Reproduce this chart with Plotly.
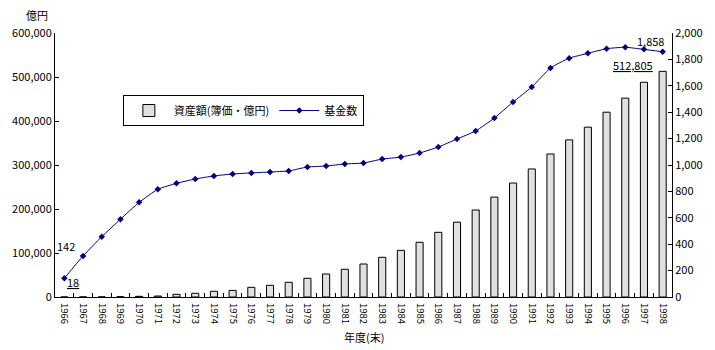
import plotly.graph_objects as go

# 年度(末)ごとの資産額(簿価・億円)と基金数
years = [str(y) for y in range(1966, 1999)]
assets = [18, 150, 300, 700, 1500, 2200, 6100, 8400, 13000, 15000,
          22000, 26600, 33400, 42500, 52300, 63000, 75000, 90200, 106000, 124300,
          147000, 170000, 197700, 227000, 259000, 291000, 325000, 357000, 386000, 420000,
          452000, 488000, 512805]
funds = [142, 311, 457, 589, 717, 816, 861, 894, 917, 932,
         940, 947, 955, 985, 992, 1008, 1015, 1045, 1060, 1091,
         1136, 1197, 1258, 1356, 1477, 1591, 1735, 1809, 1846, 1881,
         1892, 1876, 1858]

left_ticks = [0, 100000, 200000, 300000, 400000, 500000, 600000]
right_ticks = [0, 200, 400, 600, 800, 1000, 1200, 1400, 1600, 1800, 2000]

FONT = "Noto Sans CJK JP"
NAVY = "#000080"

fig = go.Figure()
fig.add_trace(go.Bar(
    x=years, y=assets, name="資産額(簿価・億円)",
    width=0.38,
    marker=dict(color="#E0E0E0", line=dict(color="black", width=1)),
    yaxis="y",
))
fig.add_trace(go.Scatter(
    x=years, y=funds, name="基金数", mode="lines+markers",
    line=dict(color=NAVY, width=1, shape="spline", smoothing=0.5),
    marker=dict(symbol="diamond", size=5, color=NAVY),
    yaxis="y2",
))

fig.update_layout(
    width=715, height=350,
    margin=dict(l=51, r=38, t=33, b=53),
    paper_bgcolor="white", plot_bgcolor="white",
    font=dict(family=FONT, size=11, color="black"),
    showlegend=True,
    legend=dict(
        orientation="h", x=0.11, y=0.765, xanchor="left", yanchor="top",
        bordercolor="black", borderwidth=1, bgcolor="white",
        font=dict(size=11), itemwidth=40,
    ),
    xaxis=dict(
        type="category", range=[-0.5, len(years) - 0.5],
        showline=True, linecolor="black", linewidth=1,
        ticks="inside", ticklen=4, tickson="boundaries", tickcolor="black",
        tickangle=90, tickfont=dict(size=9.5), ticklabelstandoff=3,
        showgrid=False,
    ),
    yaxis=dict(
        range=[0, 600000], tickvals=left_ticks, tickformat=",",
        showline=True, linecolor="black", linewidth=1,
        ticks="inside", ticklen=4, tickcolor="black", showgrid=False,
        zeroline=False,
    ),
    yaxis2=dict(
        range=[0, 2000], tickvals=right_ticks, tickformat=",",
        overlaying="y", side="right",
        showline=True, linecolor="black", linewidth=1,
        ticks="inside", ticklen=4, tickcolor="black", showgrid=False,
        zeroline=False,
    ),
)

first, last = 0, len(years) - 1
annotations = [
    dict(x=first, y=funds[0], xref="x", yref="y2", text=f"{funds[0]:,}",
         showarrow=False, xshift=2, yshift=32),
    dict(x=first, y=0, xref="x", yref="y", text=f"<u>{assets[0]:,}</u>",
         showarrow=False, xshift=9, yshift=15),
    dict(x=last, y=funds[-1], xref="x", yref="y2", text=f"{funds[-1]:,}",
         showarrow=False, xshift=-12, yshift=11),
    dict(x=last, y=assets[-1], xref="x", yref="y", text=f"<u>{assets[-1]:,}</u>",
         showarrow=False, xshift=-30, yshift=6),
    dict(x=-0.029, y=1.068, xref="paper", yref="paper", text="億円",
         showarrow=False, xanchor="center", yanchor="middle"),
    dict(x=0.5, y=-0.1515, xref="paper", yref="paper", text="年度(末)",
         showarrow=False, xanchor="center", yanchor="middle"),
]
fig.update_layout(annotations=annotations)

fig.write_html("out.html")
